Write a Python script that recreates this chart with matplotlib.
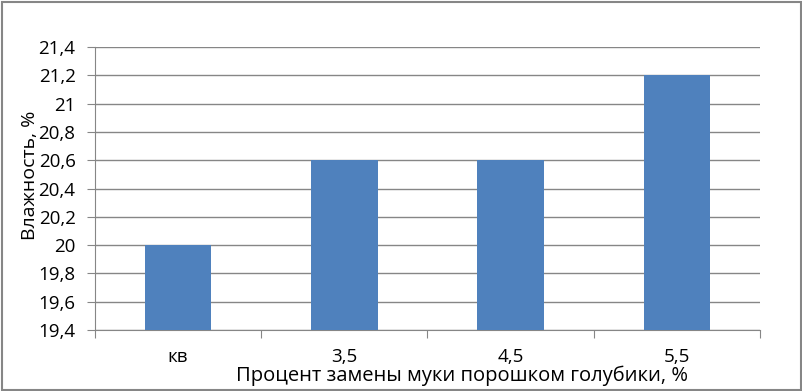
import numpy as np
import matplotlib.pyplot as plt

plt.rcParams.update({
    'font.family': ['Open Sans', 'DejaVu Sans'],
})

categories = ['кв', '3,5', '4,5', '5,5']
moisture = [20.0, 20.6, 20.6, 21.2]
y_ticks = [19.4, 19.6, 19.8, 20.0, 20.2, 20.4, 20.6, 20.8, 21.0, 21.2, 21.4]
y_labels = ['19,4', '19,6', '19,8', '20', '20,2', '20,4', '20,6', '20,8', '21', '21,2', '21,4']

fig = plt.figure(figsize=(8.03, 3.91), dpi=100)
ax = fig.add_axes([95 / 803, 1 - 330 / 391, 665 / 803, 283 / 391])

x = np.arange(len(categories))
ax.bar(x, moisture, width=0.4, color='#4F81BD', zorder=3)

ax.set_xlim(-0.5, len(categories) - 0.5)
ax.set_ylim(19.4, 21.4)
ax.set_yticks(y_ticks)
ax.set_yticklabels(y_labels, fontsize=13.5)
ax.yaxis.grid(True, color='#868686', linewidth=1, zorder=0)
ax.tick_params(axis='y', length=6, color='#868686', pad=8)

# category ticks sit between bars
ax.set_xticks(np.arange(len(categories) + 1) - 0.5)
ax.set_xticklabels([])
ax.set_xticks(x, minor=True)
ax.set_xticklabels(categories, minor=True, fontsize=13.5)
ax.tick_params(axis='x', which='major', length=6, color='#868686')
ax.tick_params(axis='x', which='minor', length=0, pad=13)

for side in ['top', 'right']:
    ax.spines[side].set_visible(False)
ax.spines['left'].set_color('#868686')
ax.spines['bottom'].set_color('#868686')

fig.text(30 / 803, 1 - 175 / 391, 'Влажность, %', rotation=90, fontsize=14,
         ha='center', va='center')
fig.text(462 / 803, 1 - 376 / 391, 'Процент замены муки порошком голубики, %',
         fontsize=14.5, ha='center', va='center')

# outer frame
fig.patches.append(plt.Rectangle((0.002, 0.003), 0.995, 0.993, transform=fig.transFigure,
                                 fill=False, edgecolor='#868686', linewidth=1.5))

fig.savefig('out.png', dpi=100)
